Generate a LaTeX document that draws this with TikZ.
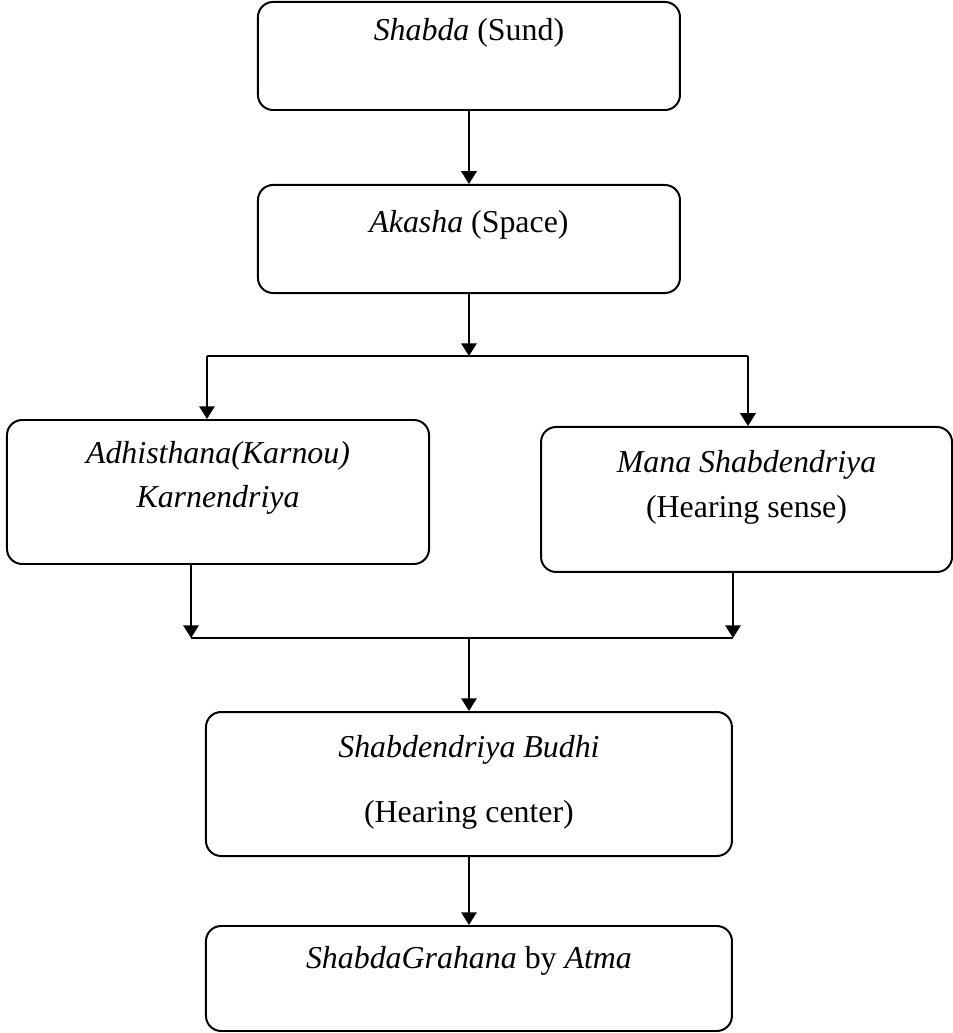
\documentclass[tikz,border=0pt]{standalone}
\usepackage{fontspec}
\setmainfont{Liberation Serif}
\usepackage{tikz}
\usetikzlibrary{
  positioning,
  arrows.meta
}
\definecolor{BoxBorder}{RGB}{0,0,0}
\definecolor{EdgeColor}{RGB}{0,0,0}
\tikzset{
  % Rounded step box (text sits near the top)
  stepbox/.style={
    rectangle,
    rounded corners=0.2cm,
    draw=BoxBorder,
    line width=0.75pt,
    inner sep=0pt,
    align=center,
    font=\fontsize{12}{16.9}\selectfont
  },
  % Plain connector line
  link/.style={
    draw=EdgeColor,
    line width=0.75pt
  },
  % Directed connector
  dlink/.style={
    draw=EdgeColor,
    line width=0.75pt,
    -{Triangle[length=4.8pt,width=5.8pt]}
  }
}

\begin{document}
\begin{tikzpicture}
  \useasboundingbox (0,0) rectangle (12.607,13.666);

  % The boxes
  \node[stepbox, minimum width=5.583cm, minimum height=1.429cm,
        text height=0.503cm, text depth=0.926cm] (shabda) at (6.204,12.925)
        {\textit{Shabda} (Sund)};
  \node[stepbox, minimum width=5.583cm, minimum height=1.429cm,
        text height=0.635cm, text depth=0.794cm] (akasha) at (6.204,10.504)
        {\textit{Akasha} (Space)};
  \node[stepbox, minimum width=5.583cm, minimum height=1.905cm,
        text height=1.164cm, text depth=0.741cm] (adhi) at (2.884,7.157)
        {\textit{Adhisthana(Karnou)}\\ \textit{Karnendriya}};
  \node[stepbox, minimum width=5.437cm, minimum height=1.918cm,
        text height=1.191cm, text depth=0.727cm] (mana) at (9.876,7.058)
        {\textit{Mana Shabdendriya}\\ (Hearing sense)};
  \node[stepbox, minimum width=6.958cm, minimum height=1.905cm,
        text height=1.468cm, text depth=0.437cm] (budhi) at (6.204,3.294)
        {\textit{Shabdendriya Budhi}\\[7.9pt] (Hearing center)};
  \node[stepbox, minimum width=6.958cm, minimum height=1.389cm,
        text height=0.556cm, text depth=0.833cm] (atma) at (6.204,0.721)
        {\textit{ShabdaGrahana} by \textit{Atma}};

  % Split and join points
  \coordinate (splitL) at (2.738,8.956);
  \coordinate (splitR) at (9.895,8.956);
  \coordinate (joinL) at (2.527,5.225);
  \coordinate (joinR) at (9.697,5.225);

  % Connectors
  \draw[dlink] (shabda) -- (akasha);
  \draw[dlink] (akasha.south) -- (akasha.south |- splitL);
  \draw[link] (splitL) -- (splitR);
  \draw[dlink] (splitL) -- (splitL |- adhi.north);
  \draw[dlink] (splitR) -- (splitR |- mana.north);
  \draw[dlink] (joinL |- adhi.south) -- (joinL);
  \draw[dlink] (joinR |- mana.south) -- (joinR);
  \draw[link] (joinL) -- (joinR);
  \draw[dlink] (budhi.north |- joinL) -- (budhi.north);
  \draw[dlink] (budhi) -- (atma);
\end{tikzpicture}
\end{document}
